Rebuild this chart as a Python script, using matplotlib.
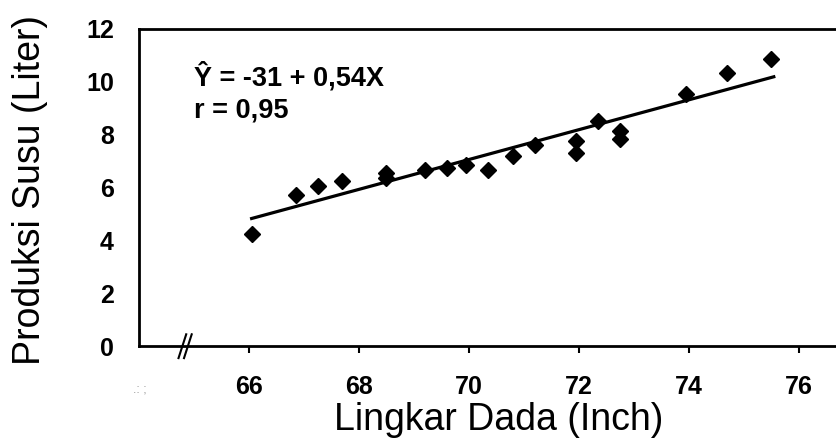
import matplotlib.pyplot as plt

plt.rcParams['font.family'] = ['Liberation Sans', 'DejaVu Sans']

# data
lingkar_dada = [66.05, 66.85, 67.25, 67.7, 68.5, 68.5, 69.2, 69.6, 69.95, 70.35,
                70.8, 71.2, 71.95, 71.95, 72.35, 72.75, 72.75, 73.95, 74.7, 75.5]
produksi_susu = [4.25, 5.7, 6.05, 6.25, 6.55, 6.35, 6.65, 6.75, 6.85, 6.65,
                 7.2, 7.6, 7.75, 7.3, 8.5, 8.15, 7.85, 9.55, 10.35, 10.85]
fit_x = [66.05, 75.55]
fit_y = [4.83, 10.19]
x_ticks = [66, 68, 70, 72, 74, 76]
y_ticks = [0, 2, 4, 6, 8, 10, 12]

fig = plt.figure(figsize=(8.37, 4.45), dpi=100)
ax = fig.add_axes([0.166, 0.222, 0.834, 0.713])

ax.plot(lingkar_dada, produksi_susu, 'D', color='black', markersize=8.5, zorder=3)
ax.plot(fit_x, fit_y, color='black', linewidth=2.3)

ax.set_xlim(64, 76.7)
ax.set_ylim(0, 12)
ax.set_xticks(x_ticks)
ax.set_yticks(y_ticks)
ax.tick_params(axis='both', labelsize=18)
ax.tick_params(axis='x', width=1.5, length=5, direction='out', pad=16)
ax.tick_params(axis='y', length=0, pad=18)
for lbl in ax.get_xticklabels() + ax.get_yticklabels():
    lbl.set_fontweight('bold')

for s in ['left', 'bottom', 'top']:
    ax.spines[s].set_linewidth(2)
ax.spines['right'].set_visible(False)

# axis break mark
ax.plot([64.72, 64.86], [-0.45, 0.45], color='black', linewidth=1.5, clip_on=False)
ax.plot([64.82, 64.96], [-0.45, 0.45], color='black', linewidth=1.5, clip_on=False)
ax.text(64.02, -1.65, '.: ;', fontsize=9, color='#999999', ha='center', va='center')

ax.text(65.0, 10.2, 'Ŷ = -31 + 0,54X', fontsize=19.5, fontweight='bold', va='center')
ax.text(65.0, 8.9, 'r = 0,95', fontsize=19.5, fontweight='bold', va='center')

fig.text(499 / 837, 1 - 420 / 445, 'Lingkar Dada (Inch)', fontsize=27,
         ha='center', va='center')
fig.text(30 / 837, 1 - 190 / 445, 'Produksi Susu (Liter)', fontsize=27,
         rotation=90, ha='center', va='center')

fig.savefig('out.png', dpi=100)
